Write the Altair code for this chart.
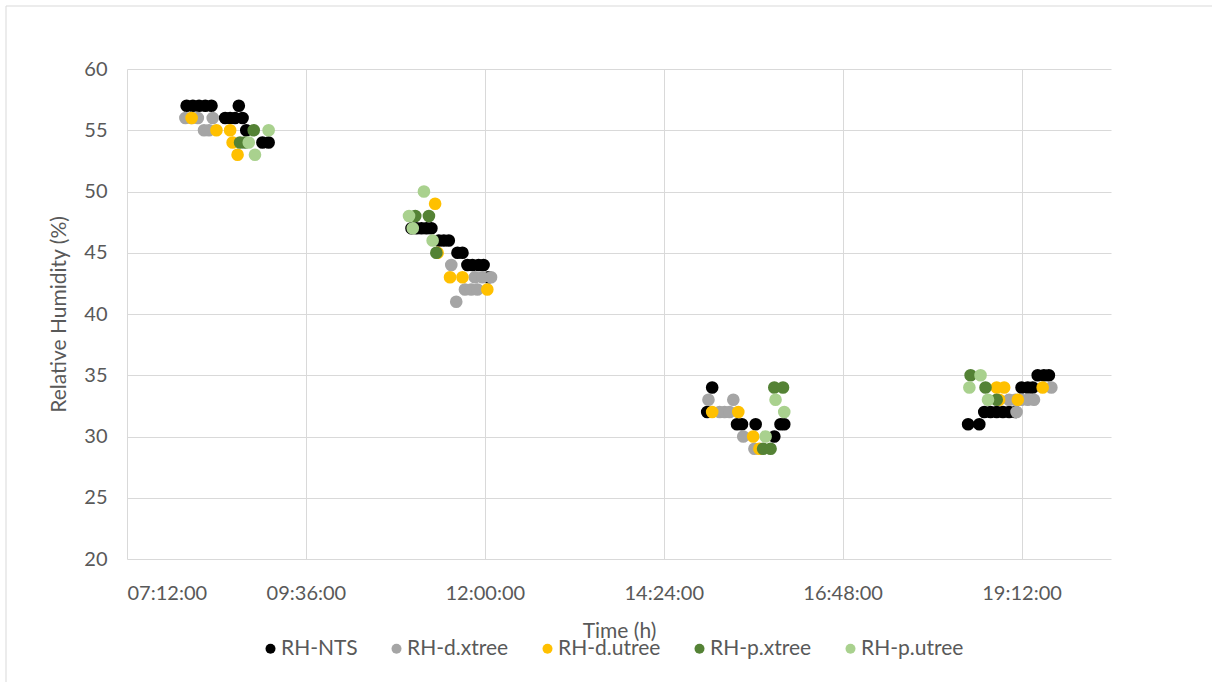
import altair as alt
import pandas as pd

# Series names and their marker colours
series_names = ["RH-NTS", "RH-d.xtree", "RH-d.utree", "RH-p.xtree", "RH-p.utree"]
series_colors = ["#000000", "#A5A5A5", "#FFC000", "#548235", "#A9D18E"]

# RH-NTS
nts_time = ["08:00", "08:05", "08:10", "08:15", "08:20", "08:31", "08:35", "08:39", "08:42", "08:45",
            "08:48", "09:01", "09:06",
            "11:01", "11:05", "11:09", "11:13", "11:17", "11:23", "11:27", "11:31", "11:38", "11:42",
            "11:46", "11:50", "11:55", "11:59", "12:03",
            "14:59", "15:03", "15:23", "15:27", "15:38", "15:53", "15:58", "16:01",
            "18:29", "18:38", "18:42", "18:47", "18:52", "18:57", "19:02", "19:07", "19:12", "19:17",
            "19:21", "19:25", "19:30", "19:34"]
nts_rh = [57, 57, 57, 57, 57, 56, 56, 56, 57, 56,
          55, 54, 54,
          47, 47, 47, 47, 47, 46, 46, 46, 45, 45,
          44, 44, 44, 44, 43,
          32, 34, 31, 31, 31, 30, 31, 31,
          31, 31, 32, 32, 32, 32, 32, 32, 34, 34,
          34, 35, 35, 35]

# RH-d.xtree
dx_time = ["07:59", "08:04", "08:09", "08:14", "08:18", "08:21",
           "11:33", "11:37", "11:44", "11:49", "11:54", "11:52", "11:58", "12:05",
           "15:00", "15:09", "15:13", "15:17", "15:20", "15:28", "15:37",
           "19:02", "19:07", "19:12", "19:17", "19:22", "19:08", "19:36"]
dx_rh = [56, 56, 56, 55, 55, 56,
         44, 41, 42, 42, 42, 43, 43, 43,
         33, 32, 32, 32, 33, 30, 29,
         33, 33, 33, 33, 33, 32, 34]

# RH-d.utree
du_time = ["08:04", "08:24", "08:35", "08:37", "08:41",
           "11:20", "11:22", "11:32", "11:42", "12:02",
           "15:03", "15:24", "15:36", "15:41",
           "18:52", "18:58", "18:54", "19:09", "19:29"]
du_rh = [56, 55, 55, 54, 53,
         49, 45, 43, 43, 42,
         32, 32, 30, 29,
         34, 34, 33, 33, 34]

# RH-p.xtree
px_time = ["08:43", "08:47", "08:54",
           "11:04", "11:15", "11:21",
           "15:44", "15:50", "15:53", "16:00",
           "18:31", "18:43", "18:52"]
px_rh = [54, 54, 55,
         48, 48, 45,
         29, 29, 34, 34,
         35, 34, 33]

# RH-p.utree
pu_time = ["08:50", "08:55", "09:06",
           "10:59", "11:02", "11:11", "11:18",
           "15:46", "15:54", "16:01",
           "18:30", "18:39", "18:45"]
pu_rh = [54, 53, 55,
         48, 47, 50, 46,
         30, 33, 32,
         34, 35, 33]

x_ticks = ["07:12", "09:36", "12:00", "14:24", "16:48", "19:12"]
x_end = "20:24"
y_ticks = [20, 25, 30, 35, 40, 45, 50, 55, 60]

DAY = "2024-01-01T"

rows = []
all_series = [(nts_time, nts_rh), (dx_time, dx_rh), (du_time, du_rh), (px_time, px_rh), (pu_time, pu_rh)]
k = 0
for name, (times, vals) in zip(series_names, all_series):
    for t, v in zip(times, vals):
        rows.append({"time": DAY + t + ":00", "rh": v, "series": name, "k": k})
        k += 1
df = pd.DataFrame(rows)


def dt(hm):
    h, m = hm.split(":")
    return alt.DateTime(year=2024, month=1, date=1, hours=int(h), minutes=int(m))


FONT = "Lato"
TXT = "#595959"
GRID = "#D9D9D9"

points = alt.Chart(df).mark_circle(size=160, opacity=1).encode(
    x=alt.X(
        "time:T",
        scale=alt.Scale(domain=[dt(x_ticks[0]), dt(x_end)]),
        axis=alt.Axis(
            values=[dt(t) for t in x_ticks],
            format="%H:%M:%S",
            title="Time (h)",
            grid=True,
            gridColor=GRID,
            domain=False,
            ticks=False,
            tickSize=0,
            labelPadding=24,
            labelFontSize=20,
            labelColor=TXT,
            labelFont=FONT,
            titleFont=FONT,
            titleFontSize=21,
            titleFontWeight="normal",
            titleColor=TXT,
            titlePadding=17,
        ),
    ),
    y=alt.Y(
        "rh:Q",
        scale=alt.Scale(domain=[20, 60]),
        axis=alt.Axis(
            values=y_ticks,
            title="Relative Humidity (%)",
            grid=True,
            gridColor=GRID,
            domain=False,
            ticks=False,
            tickSize=0,
            labelPadding=20,
            labelFontSize=20,
            labelColor=TXT,
            labelFont=FONT,
            titleFont=FONT,
            titleFontSize=21,
            titleFontWeight="normal",
            titleColor=TXT,
            titlePadding=14,
        ),
    ),
    color=alt.Color(
        "series:N",
        scale=alt.Scale(domain=series_names, range=series_colors),
        sort=series_names,
        legend=alt.Legend(
            title=None,
            orient="none",
            legendX=133,
            legendY=569,
            direction="horizontal",
            columns=5,
            columnPadding=28,
            symbolType="circle",
            symbolSize=100,
            symbolOpacity=1,
            symbolStrokeWidth=0,
            labelFont=FONT,
            labelFontSize=21,
            labelColor=TXT,
            labelOffset=0,
        ),
    ),
    order=alt.Order("k:Q"),
)

# light frame along the top and left edges of the chart
frame_df = pd.DataFrame({"k": [0]})
frame_top = alt.Chart(frame_df).mark_rule(color=GRID, strokeWidth=1).encode(
    x=alt.value(-121), x2=alt.value(1090), y=alt.value(-63)
)
frame_left = alt.Chart(frame_df).mark_rule(color=GRID, strokeWidth=1).encode(
    x=alt.value(-121), y=alt.value(-63), y2=alt.value(620)
)

chart = alt.layer(frame_top, frame_left, points).properties(
    width=984,
    height=490,
    autosize=alt.AutoSizeParams(type="none"),
    padding={"left": 127, "top": 69, "right": 101, "bottom": 123},
    background="white",
).configure_view(stroke=None)

chart.save("out.html", embed_options={"renderer": "svg", "actions": False})
